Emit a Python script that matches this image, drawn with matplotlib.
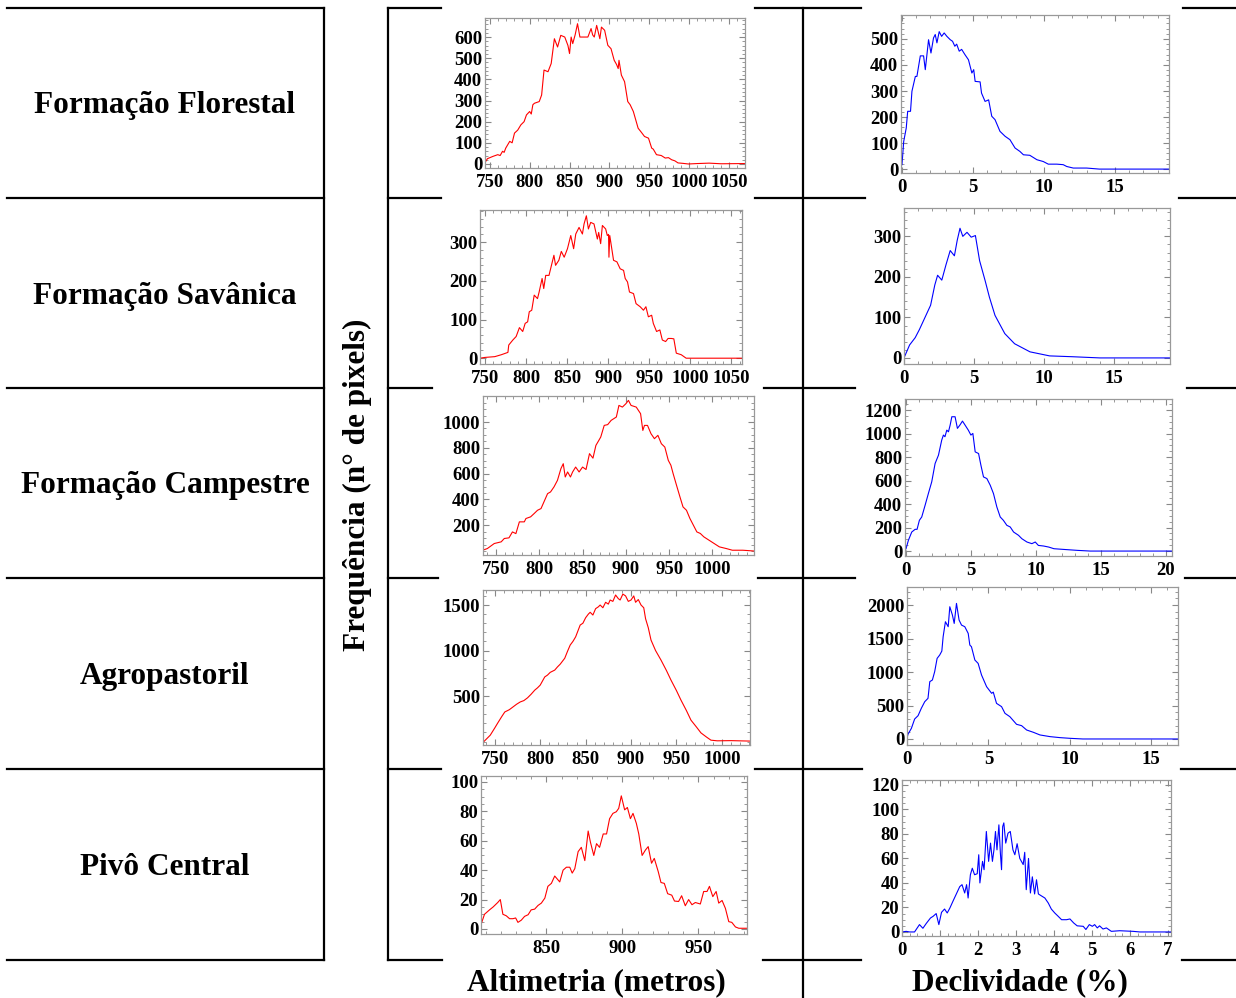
import matplotlib
matplotlib.use('Agg')
import matplotlib.pyplot as plt
from matplotlib.lines import Line2D
from matplotlib.ticker import AutoMinorLocator

plt.rcParams['font.family'] = 'Liberation Serif'
plt.rcParams['font.weight'] = 'bold'

# row / column labels
classes = ['Formação Florestal', 'Formação Savânica', 'Formação Campestre',
           'Agropastoril', 'Pivô Central']
ylabel = 'Frequência (n° de pixels)'
xlabel_alt = 'Altimetria (metros)'
xlabel_dec = 'Declividade (%)'

# Formação Florestal - altimetria
flor_alt_x = [743, 747, 754, 760, 763, 766, 768, 770, 775, 778, 781, 785, 789, 793, 796, 800, 802, 804,
              806, 812, 815, 818, 823, 827, 831, 835, 839, 844, 848, 850, 852, 854, 857, 860, 863, 873,
              877, 879, 881, 884, 888, 890, 894, 898, 902, 906, 909, 911, 912, 915, 919, 923, 926, 930,
              936, 940, 944, 949, 953, 955, 959, 965, 970, 974, 978, 982, 986, 992, 999, 1010, 1025, 1040, 1070]
flor_alt_y = [0, 25, 36, 44, 40, 60, 55, 75, 107, 100, 146, 160, 185, 200, 232, 248, 236, 280,
              287, 295, 326, 444, 436, 475, 592, 553, 608, 600, 560, 522, 600, 569, 610, 663, 600, 600,
              640, 610, 600, 655, 592, 647, 632, 561, 545, 490, 470, 451, 490, 420, 389, 295, 280, 248,
              169, 150, 130, 122, 75, 70, 44, 40, 28, 30, 20, 15, 5, 3, 0, 2, 4, 1, 2]

# Formação Florestal - declividade
flor_dec_x = [0.0, 0.12, 0.3, 0.4, 0.6, 0.7, 0.94, 1.05, 1.29, 1.52, 1.64, 1.87, 2.04, 2.22, 2.34, 2.46,
              2.62, 2.79, 2.97, 3.16, 3.4, 3.56, 3.72, 3.85, 4.03, 4.2, 4.43, 4.68, 4.92, 5.05, 5.15, 5.5,
              5.6, 5.85, 6.1, 6.32, 6.55, 6.9, 7.26, 7.6, 7.96, 8.3, 8.55, 9.0, 9.5, 9.95, 10.3, 10.9,
              11.35, 11.6, 12.06, 13.0, 13.9, 16.3, 18.8]
flor_dec_y = [17, 106, 158, 222, 222, 299, 356, 356, 435, 435, 382, 497, 446, 504, 517, 485,
              528, 510, 523, 510, 497, 491, 472, 480, 453, 460, 440, 420, 369, 382, 337, 335,
              292, 260, 266, 203, 190, 145, 126, 113, 81, 68, 55, 53, 36, 29, 19, 19,
              17, 10, 4, 4, 0, 0, 0]

# Formação Savânica - altimetria
sav_alt_x = [744, 750, 762, 770, 778, 779, 784, 788, 792, 796, 799, 802, 804, 807, 810, 814, 816, 819.6,
             821.6, 824, 828, 831, 834, 836, 840, 843, 846.5, 850.5, 854.5, 858, 860.6, 864.6, 868.7,
             870.7, 873.5, 876, 878.8, 882.8, 886.9, 888.5, 890.9, 893, 897, 899, 900.5, 901, 902,
             906.6, 910.7, 914.7, 918.8, 920.8, 923.6, 926, 930.9, 934, 939, 943, 946, 949, 953, 955,
             959, 963, 966, 970, 973, 977, 980, 983, 989, 995, 1002, 1063]
sav_alt_y = [0, 2, 4, 9, 15, 34, 47, 56, 79, 69, 90, 94, 120, 124, 163, 154, 171, 206,
             180, 214, 214, 240, 266, 240, 253, 276, 261, 283, 317, 283, 321, 338, 321,
             347, 368, 334, 351, 347, 308, 325, 296, 343, 334, 317, 320, 261, 317,
             253, 249, 231, 227, 206, 197, 171, 167, 141, 133, 124, 133, 107, 111, 90,
             69, 73, 47, 43, 51, 51, 50, 13, 9, 0, 0, 0]

# Formação Savânica - declividade
sav_dec_x = [0.0, 0.4, 0.8, 1.1, 1.5, 1.9, 2.2, 2.4, 2.7, 3.0, 3.3, 3.6, 3.8, 4.0, 4.2, 4.5, 4.8,
             5.1, 5.4, 5.8, 6.1, 6.5, 7.2, 7.9, 9.0, 10.4, 12.0, 14.0, 19.0]
sav_dec_y = [0, 32, 50, 70, 100, 130, 180, 204, 192, 230, 265, 252, 290, 320, 300, 310, 298,
             302, 240, 190, 150, 105, 60, 35, 15, 5, 3, 0, 0]

# Formação Campestre - altimetria
camp_alt_x = [734.6, 740, 748, 756, 759.6, 765, 769, 773, 777, 782.7, 784.6, 790, 794, 798, 802, 809.6,
              813, 817, 821, 825, 827.7, 830, 832.7, 836, 838.5, 842, 846, 850, 854, 858, 862, 865.4,
              868.8, 871, 875, 879, 883, 889, 892, 896, 900, 903, 906, 912, 917, 919.6, 921.5, 925,
              929, 933, 937, 941, 945, 949, 952, 954.6, 958.5, 962.5, 966, 970, 974, 978, 982, 986,
              990, 996, 1002, 1008, 1016, 1023, 1035, 1048]
camp_alt_y = [6, 19, 58, 71, 97, 102, 148, 135, 226, 226, 252, 265, 290, 316, 329, 445,
              458, 497, 548, 639, 677, 574, 613, 574, 613, 651, 613, 651, 632, 755, 720, 819,
              858, 884, 974, 980, 1013, 1039, 1129, 1116, 1142, 1168, 1129, 1116, 1065, 935, 974, 974,
              910, 871, 897, 832, 806, 703, 665, 600, 510, 419, 342, 316, 252, 200, 148, 136,
              110, 84, 58, 32, 19, 6, 6, 0]

# Formação Campestre - declividade
camp_dec_x = [0.0, 0.18, 0.44, 0.7, 0.85, 1.03, 1.21, 1.47, 1.72, 1.98, 2.24, 2.5, 2.75, 2.88, 3.0,
              3.14, 3.27, 3.4, 3.53, 3.78, 3.96, 4.15, 4.35, 4.55, 4.8, 5.0, 5.15, 5.33, 5.59, 5.77,
              5.97, 6.23, 6.49, 6.74, 7.0, 7.26, 7.5, 7.77, 8.03, 8.29, 8.67, 8.93, 9.32, 9.7, 9.96,
              10.2, 10.6, 11.0, 11.4, 12.15, 13.2, 14.2, 20.6]
camp_dec_y = [20, 91, 162, 185, 185, 262, 290, 390, 489, 589, 745, 816, 944, 987, 973,
              1029, 1015, 1072, 1143, 1143, 1044, 1072, 1106, 1072, 1029, 987, 1001, 844, 830, 731,
              631, 617, 560, 489, 375, 290, 262, 219, 205, 162, 134, 105, 77, 63, 77,
              48, 43, 34, 20, 14, 6, 0, 0]

# Agropastoril - altimetria
agro_alt_x = [738, 742, 745, 750, 753, 758, 761, 766, 770, 774, 778, 782, 786, 790, 794, 797, 800, 805,
              808, 811, 816, 819, 822, 827, 830, 833, 836, 839, 844, 847, 850, 853, 855, 858, 861, 864,
              866, 869, 872, 875, 877, 880, 883, 886, 888, 891, 894, 897, 900, 903, 905, 908, 911, 914,
              916, 919, 922, 927, 933, 939, 944, 950, 955, 961, 966, 972, 977, 983, 988, 995, 1010, 1031]
agro_alt_y = [0, 40, 70, 150, 200, 280, 325, 350, 380, 410, 435, 450, 480, 520, 565, 590, 620, 710,
              730, 760, 785, 820, 850, 915, 990, 1060, 1100, 1150, 1280, 1300, 1360, 1400, 1420, 1390, 1460, 1480,
              1500, 1470, 1530, 1510, 1555, 1540, 1610, 1570, 1555, 1620, 1600, 1540, 1555, 1600, 1530, 1560, 1500, 1470,
              1350, 1250, 1115, 1000, 895, 780, 675, 560, 455, 340, 235, 160, 95, 50, 15, 8, 10, 5]

# Agropastoril - declividade
agro_dec_x = [0.0, 0.06, 0.27, 0.47, 0.68, 0.88, 1.09, 1.29, 1.4, 1.56, 1.7, 1.85, 2.01, 2.14, 2.22,
              2.36, 2.53, 2.63, 2.79, 2.9, 3.04, 3.2, 3.35, 3.55, 3.76, 3.86, 3.96, 4.17, 4.37, 4.58,
              4.89, 5.2, 5.3, 5.5, 5.81, 6.02, 6.32, 6.73, 7.04, 7.35, 7.76, 8.17, 8.79, 9.4, 10.0,
              10.8, 16.7]
agro_dec_y = [10, 70, 159, 298, 348, 458, 557, 607, 856, 881, 1005, 1204, 1254, 1313, 1527,
              1751, 1677, 1975, 1851, 1726, 2025, 1776, 1701, 1677, 1577, 1403, 1378, 1179, 1129, 955,
              781, 682, 700, 532, 483, 383, 333, 219, 199, 134, 100, 60, 35, 20, 10,
              0, 0]

# Pivô Central - altimetria
piv_alt_x = [807, 809.3, 812.6, 815, 818, 819.7, 821.4, 823.6, 825.8, 828, 829.8, 831.3, 833.5, 835.7,
             838, 840, 842.3, 844.5, 846.7, 849, 851, 853.3, 855.5, 858.8, 861, 863.2, 865.4, 867,
             868.7, 870.9, 873, 875.3, 877.5, 879, 881.2, 883, 885, 887.4, 889.6, 891.6, 893.8, 896,
             897.6, 899.3, 901.5, 903.3, 905.3, 907, 909.2, 910.8, 913, 915.2, 917, 919.2, 921,
             923.6, 925.4, 927.6, 929.8, 932.5, 934.3, 937, 939, 941.4, 943.6, 945.8, 948, 951.3,
             953.5, 955.7, 957.3, 959.5, 961.7, 963.4, 965.6, 967.8, 970, 972, 974.4, 976.6, 982]
piv_alt_y = [3, 10, 13, 15, 18, 20, 10, 9, 7, 7, 7.5, 4.5, 6, 8.6,
             9.7, 13, 13.5, 16, 17.6, 21, 29, 31, 36, 32, 40, 42, 42, 38,
             41, 52.6, 55.5, 46.5, 66.6, 59, 50, 58, 55.5, 64.6, 64.6, 75, 78.6, 79.7,
             82, 90.5, 81, 82.6, 75, 78.6, 71.8, 64.6, 50, 53.7, 56, 44.7, 48,
             39, 31.6, 31, 24, 23, 19, 18.7, 22.6, 15.8, 20, 16.5, 18, 17,
             25.5, 25.5, 29, 22, 25.5, 17.6, 19.4, 14, 5, 4.5, 1.4, 0.5, 0.5]

# Pivô Central - declividade
piv_dec_x = [0.0, 0.11, 0.2, 0.33, 0.46, 0.55, 0.64, 0.75, 0.82, 0.9, 0.97, 1.04, 1.12, 1.19, 1.26,
             1.34, 1.43, 1.52, 1.58, 1.65, 1.7, 1.74, 1.8, 1.85, 1.91, 1.98, 2.02, 2.05, 2.12, 2.16,
             2.22, 2.28, 2.33, 2.38, 2.42, 2.46, 2.5, 2.55, 2.59, 2.62, 2.65, 2.68, 2.73, 2.79, 2.85,
             2.92, 2.97, 3.03, 3.1, 3.19, 3.23, 3.27, 3.33, 3.38, 3.43, 3.49, 3.54, 3.59, 3.64, 3.76,
             3.85, 3.93, 4.02, 4.11, 4.2, 4.33, 4.42, 4.52, 4.61, 4.77, 4.84, 4.93, 5.01, 5.07, 5.14,
             5.2, 5.29, 5.38, 5.51, 5.73, 6.08, 6.26, 6.44, 6.96, 7.07]
piv_dec_y = [0, 0.5, 0, 0, 6, 3, 7, 11.4, 12.8, 15, 6, 16, 18.7, 15.5, 19.5,
             25, 31, 37, 38.6, 31.8, 38.6, 27.7, 46.7, 52, 46.7, 47.5, 63, 40, 57.6, 50.8,
             82, 57.6, 72.5, 57.6, 67, 82, 67, 87.4, 64, 50.8, 86, 89, 72.5, 80.6, 82,
             67, 63, 72, 60, 55, 65, 34.5, 60, 31.8, 45, 31, 42.6, 31, 30, 27.7,
             23.6, 18.7, 15.5, 12.8, 10, 10, 10.6, 7.3, 5, 4.6, 2, 6, 4.6, 6, 3.3,
             5, 2.4, 3.3, 0.5, 1, 0.5, 0, 0, 0, 0]

W, H = 1236, 998
fig = plt.figure(figsize=(W / 100, H / 100), dpi=100)


def line(x0, y0, x1, y1):
    fig.add_artist(Line2D([x0 / W, x1 / W], [1 - y0 / H, 1 - y1 / H],
                          color='black', lw=1.6, solid_capstyle='projecting'))


def panel(box, x, y, color, xlim, ylim, xticks, yticks):
    l, t, r, b = box
    ax = fig.add_axes([l / W, 1 - b / H, (r - l) / W, (b - t) / H])
    ax.plot(x, y, color=color, lw=0.8)
    ax.set_xlim(xlim)
    ax.set_ylim(ylim)
    ax.set_xticks(xticks)
    ax.set_yticks(yticks)
    ax.xaxis.set_minor_locator(AutoMinorLocator())
    ax.yaxis.set_minor_locator(AutoMinorLocator())
    ax.tick_params(which='both', direction='in', top=True, right=True,
                   color='#888888', labelcolor='black', labelsize=13.5)
    ax.tick_params(axis='x', pad=4)
    ax.tick_params(axis='y', pad=2)
    ax.tick_params(which='major', length=4, width=0.8)
    ax.tick_params(which='minor', length=2, width=0.6)
    for s in ax.spines.values():
        s.set_color('#999999')
        s.set_linewidth(0.9)
    return ax


# table lines
rows_y = [8, 198, 388, 578, 769, 960]
gaps2 = [(441, 755), (441, 755), (432, 764), (438, 758), (441, 755), (442, 763)]
gaps3 = [(861, 1183), (865, 1179), (855, 1187), (855, 1185), (862, 1181), (861, 1182)]
for yy, g2, g3 in zip(rows_y, gaps2, gaps3):
    line(7, yy, 324, yy)
    line(388, yy, g2[0], yy)
    line(g2[1], yy, g3[0], yy)
    line(g3[1], yy, 1236, yy)
line(324, 8, 324, 960)
line(388, 8, 388, 960)
line(803, 8, 803, 998)

# row labels
for i, name in enumerate(classes):
    yc = (rows_y[i] + rows_y[i + 1]) / 2 + 3
    fig.text(165 / W, 1 - yc / H, name, ha='center', va='center', fontsize=22.5, fontweight='bold')

fig.text(357 / W, 1 - 485 / H, ylabel, rotation=90, ha='center', va='center', fontsize=22.5, fontweight='bold')
fig.text(596 / W, 1 - 983 / H, xlabel_alt, ha='center', va='center', fontsize=22.5, fontweight='bold')
fig.text(1020 / W, 1 - 983 / H, xlabel_dec, ha='center', va='center', fontsize=22.5, fontweight='bold')

red, blue = '#ff0000', '#0000ff'
alt5 = [750, 800, 850, 900, 950, 1000, 1050]

panel((485, 18, 745, 168), flor_alt_x, flor_alt_y, red, (744, 1070), (-19, 690), alt5, range(0, 700, 100))
panel((901, 15, 1169, 173), flor_dec_x, flor_dec_y, blue, (-0.07, 18.8), (-15, 592), [0, 5, 10, 15], range(0, 600, 100))
panel((480, 210, 742, 364), sav_alt_x, sav_alt_y, red, (744, 1063), (-15, 383), alt5, [0, 100, 200, 300])
panel((904, 208, 1170, 364), sav_dec_x, sav_dec_y, blue, (0, 19), (-15, 370), [0, 5, 10, 15], [0, 100, 200, 300])
panel((483, 396, 754, 555), camp_alt_x, camp_alt_y, red, (735, 1048), (-31, 1202), alt5[:-1], range(200, 1200, 200))
panel((905, 399, 1172, 556), camp_dec_x, camp_dec_y, blue, (-0.08, 20.5), (-42, 1294), [0, 5, 10, 15, 20], range(0, 1400, 200))
panel((483, 590, 750, 745), agro_alt_x, agro_alt_y, red, (737, 1031), (-38, 1665), alt5[:-1], [500, 1000, 1500])
panel((907, 587, 1178, 745), agro_dec_x, agro_dec_y, blue, (0, 16.65), (-90, 2270), [0, 5, 10, 15], range(0, 2500, 500))
panel((481, 776, 747, 934), piv_alt_x, piv_alt_y, red, (807, 982), (-3.4, 104), [850, 900, 950], range(0, 120, 20))
panel((902, 780, 1171, 936), piv_dec_x, piv_dec_y, blue, (0, 7.08), (-3.3, 124), range(0, 8), range(0, 140, 20))

fig.savefig('out.png', dpi=100)
